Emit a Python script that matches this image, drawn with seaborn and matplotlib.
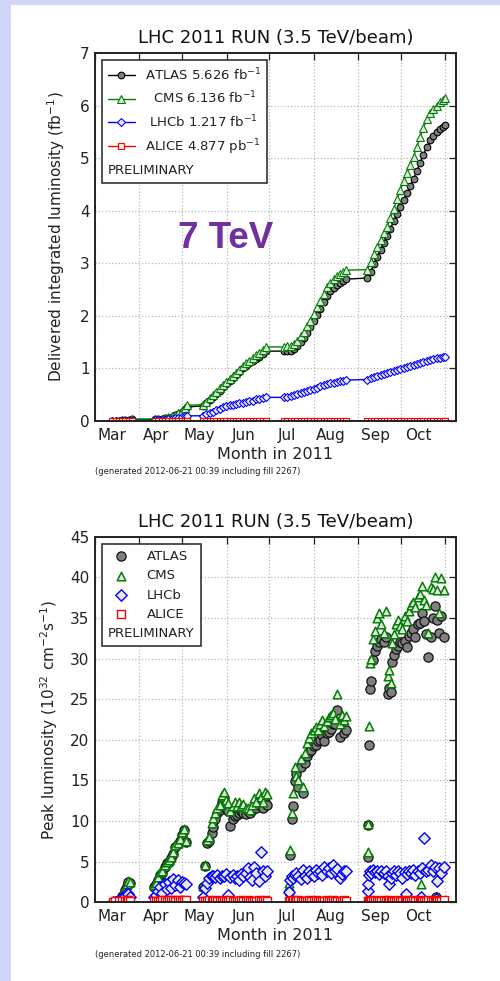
import numpy as np
import pandas as pd
import matplotlib
matplotlib.use("Agg")
import matplotlib.pyplot as plt
from matplotlib.patches import Rectangle
from matplotlib.offsetbox import TextArea
from matplotlib.ticker import NullFormatter
import seaborn as sns

# ---------------------------------------------------------------- data
START = "2011-03-01"          # day 0 of the day counters below

month_starts = ["2011-03-01", "2011-04-01", "2011-05-01", "2011-06-01", "2011-07-01",
                "2011-08-01", "2011-09-01", "2011-10-01", "2011-11-01"]
month_label_dates = ["2011-03-13", "2011-04-13", "2011-05-13", "2011-06-13",
                     "2011-07-13", "2011-08-13", "2011-09-13", "2011-10-13"]
month_labels = ["Mar", "Apr", "May", "Jun", "Jul", "Aug", "Sep", "Oct"]

# ---- top panel: delivered integrated luminosity (fb^-1), days since 1 March
int_days = [12.1, 14.4, 16.7, 19.0, 21.3, 23.6, 25.9,
            42.1, 44.4, 46.7, 49.0, 51.3, 53.6, 56.0, 58.3, 60.6, 62.9, 64.0,
            75.6, 77.9, 80.2, 82.5, 84.8, 87.2, 89.5, 91.8, 94.1, 96.4, 98.7, 101.0,
            103.3, 105.6, 108.0, 110.3, 112.6, 114.9, 117.2, 119.5,
            132.2, 134.5, 136.8, 139.2, 141.5, 143.8, 146.1, 148.4, 150.7, 153.0,
            155.3, 157.6, 160.0, 162.3, 164.6, 166.9, 169.2, 171.5, 173.8, 175.7,
            190.5, 192.8, 195.1, 197.4, 199.7, 202.0, 204.3, 206.6, 209.0, 211.3,
            213.6, 215.9, 218.2, 220.5, 222.8, 225.1, 227.4, 229.7, 232.1, 234.4,
            236.7, 239.0, 241.3, 243.1, 244.5]

atlas_int = [0.002, 0.005, 0.009, 0.014, 0.020, 0.026, 0.031,
             0.034, 0.038, 0.044, 0.053, 0.066, 0.083, 0.106, 0.136, 0.175, 0.225, 0.265,
             0.29, 0.34, 0.40, 0.46, 0.52, 0.58, 0.64, 0.70, 0.76, 0.82, 0.88, 0.94,
             1.00, 1.05, 1.10, 1.14, 1.18, 1.22, 1.28, 1.33,
             1.33, 1.33, 1.34, 1.37, 1.43, 1.50, 1.58, 1.68, 1.78, 1.90,
             2.02, 2.14, 2.26, 2.38, 2.47, 2.54, 2.59, 2.63, 2.67, 2.70,
             2.72, 2.84, 2.98, 3.12, 3.26, 3.39, 3.52, 3.66, 3.80, 3.94,
             4.07, 4.20, 4.34, 4.47, 4.61, 4.76, 4.91, 5.07, 5.22, 5.34,
             5.42, 5.49, 5.55, 5.59, 5.626]

cms_int = [0.002, 0.005, 0.010, 0.015, 0.022, 0.028, 0.033,
           0.036, 0.041, 0.048, 0.058, 0.073, 0.093, 0.118, 0.152, 0.197, 0.255, 0.300,
           0.31, 0.37, 0.43, 0.49, 0.56, 0.62, 0.68, 0.74, 0.80, 0.86, 0.92, 0.98,
           1.05, 1.10, 1.15, 1.20, 1.25, 1.30, 1.36, 1.41,
           1.41, 1.42, 1.43, 1.47, 1.53, 1.61, 1.70, 1.80, 1.91, 2.03,
           2.16, 2.29, 2.42, 2.55, 2.63, 2.70, 2.75, 2.79, 2.83, 2.87,
           2.88, 3.02, 3.18, 3.32, 3.45, 3.57, 3.70, 3.86, 4.04, 4.22,
           4.40, 4.56, 4.72, 4.87, 5.03, 5.22, 5.40, 5.58, 5.74, 5.86,
           5.94, 6.00, 6.06, 6.10, 6.136]

lhcb_int = [0.000, 0.001, 0.002, 0.004, 0.006, 0.008, 0.010,
            0.012, 0.015, 0.020, 0.026, 0.033, 0.042, 0.052, 0.065, 0.078, 0.092, 0.100,
            0.10, 0.13, 0.16, 0.18, 0.21, 0.23, 0.26, 0.28, 0.30, 0.31, 0.33, 0.34,
            0.35, 0.37, 0.38, 0.39, 0.41, 0.42, 0.43, 0.45,
            0.45, 0.46, 0.47, 0.49, 0.51, 0.53, 0.55, 0.57, 0.59, 0.61,
            0.63, 0.66, 0.68, 0.71, 0.72, 0.73, 0.74, 0.76, 0.77, 0.78,
            0.79, 0.81, 0.83, 0.85, 0.87, 0.89, 0.91, 0.93, 0.95, 0.97,
            0.99, 1.01, 1.03, 1.05, 1.07, 1.09, 1.11, 1.13, 1.15, 1.17,
            1.18, 1.19, 1.20, 1.21, 1.217]

alice_int = [0.00001, 0.00002, 0.00003, 0.00004, 0.00005, 0.00006, 0.00007,
             0.00009, 0.00010, 0.00012, 0.00014, 0.00016, 0.00018, 0.00020, 0.00022,
             0.00024, 0.00026, 0.00028,
             0.00030, 0.00037, 0.00044, 0.00050, 0.00058, 0.00065, 0.00071, 0.00079,
             0.00086, 0.00093, 0.00100, 0.00106, 0.00114, 0.00121, 0.00128, 0.00135,
             0.00142, 0.00149, 0.00156, 0.00163,
             0.00170, 0.00177, 0.00184, 0.00191, 0.00198, 0.00205, 0.00212, 0.00219,
             0.00226, 0.00233, 0.00240, 0.00247, 0.00254, 0.00261, 0.00268, 0.00275,
             0.00282, 0.00289, 0.00296, 0.00303,
             0.00310, 0.00317, 0.00324, 0.00331, 0.00338, 0.00345, 0.00352, 0.00359,
             0.00366, 0.00373, 0.00380, 0.00387, 0.00394, 0.00401, 0.00408, 0.00415,
             0.00422, 0.00429, 0.00436, 0.00443, 0.00450, 0.00457, 0.00464, 0.00471,
             0.004877]

# ---- bottom panel: peak luminosity (1e32 cm^-2 s^-1), days since 1 March
peak_days = [12.3, 14.3, 16.9, 18.9, 20.9, 22.4, 23.4, 24.4,
             41.1, 42.6, 44.1, 45.6, 47.2, 48.7, 50.2, 51.7, 53.2, 54.8, 56.3, 57.8,
             59.3, 60.8, 62.3, 63.4,
             75.5, 77.0, 78.5, 80.0, 81.5, 82.6, 84.1, 85.6, 87.1, 88.6, 90.2, 91.7,
             93.2, 94.7, 96.2, 97.7, 99.2, 100.8, 102.3, 103.8, 105.3, 106.8, 108.4,
             109.9, 111.4, 112.9, 114.4, 115.9, 117.5, 119.0, 120.5,
             135.6, 136.6, 137.7, 138.7, 139.7, 140.7, 142.2, 143.8, 145.3, 146.8,
             148.3, 149.8, 151.3, 152.9, 154.4, 155.9, 157.4, 158.9, 160.5, 162.0,
             163.5, 165.0, 166.5, 168.1, 169.6, 171.1, 172.6, 174.1, 175.6,
             190.7, 191.2, 191.7, 192.2, 193.2, 194.2, 195.7, 197.2, 198.8, 200.3,
             201.8, 203.3, 204.8, 205.8, 206.8, 207.9, 208.9, 210.4, 211.9, 213.4,
             214.9, 216.5, 217.5, 218.0, 219.5, 221.0, 222.5, 224.1, 225.6, 227.1,
             228.1, 228.6, 230.1, 231.6, 233.2, 234.7, 236.2, 237.7, 238.7, 239.2,
             240.7, 242.3, 243.8]

atlas_peak = [0.05, 0.1, 0.3, 0.8, 1.5, 2.0, 2.5, 2.4,
              1.9, 2.2, 2.8, 3.4, 3.6, 4.4, 4.8, 5.0, 5.4, 6.0, 6.8, 7.2, 7.6, 8.3, 8.9, 7.4,
              1.9, 4.5, 7.3, 7.6, 8.5, 9.3, 10.2, 11.0, 11.4, 12.4, 12.8, 11.6,
              11.2, 9.4, 10.2, 10.6, 10.8, 11.0, 11.2, 11.0, 10.9, 11.2, 11.0,
              11.4, 11.8, 11.6, 12.0, 12.6, 11.6, 12.4, 12.0,
              1.3, 5.8, 10.3, 11.8, 14.9, 15.8, 14.2, 16.6, 13.4, 17.2,
              18.0, 18.5, 18.8, 19.2, 19.4, 19.8, 20.0, 20.6, 19.8, 20.8,
              21.0, 21.3, 21.9, 22.0, 23.7, 20.4, 22.5, 20.8, 21.2,
              5.6, 9.5, 19.4, 26.2, 27.2, 29.8, 30.9, 31.5, 32.1, 32.4,
              32.0, 32.6, 25.6, 26.4, 25.9, 29.6, 30.4, 31.2, 31.6, 32.0,
              31.9, 32.2, 0.5, 31.4, 32.8, 33.2, 33.6, 32.6, 34.2, 34.4,
              0.4, 35.6, 34.6, 33.0, 30.2, 32.6, 35.0, 36.5, 0.6, 34.8,
              33.1, 35.2, 32.7]

cms_peak = [0.05, 0.1, 0.3, 0.9, 1.7, 2.2, 2.6, 2.5,
            2.1, 2.4, 3.1, 3.7, 3.8, 4.6, 5.0, 5.2, 5.6, 6.2, 7.0, 7.3, 7.8, 8.6, 9.0, 7.6,
            2.0, 4.6, 7.7, 8.1, 9.8, 10.4, 11.0, 11.6, 12.0, 13.2, 13.6, 12.6,
            12.2, 11.3, 11.8, 12.3, 11.9, 12.3, 11.8, 12.1, 11.6, 11.6, 11.4,
            12.0, 12.8, 12.4, 13.4, 13.0, 12.4, 13.6, 13.3,
            2.4, 6.5, 11.0, 13.5, 16.7, 15.5, 15.0, 17.6, 14.2, 18.4,
            19.6, 20.2, 20.8, 21.2, 21.6, 21.2, 22.0, 22.4, 21.7, 22.3,
            22.8, 23.0, 23.3, 22.6, 25.6, 22.0, 23.0, 22.5, 22.9,
            6.2, 9.7, 21.7, 29.4, 29.9, 32.4, 33.4, 35.0, 35.6, 34.2,
            33.2, 35.8, 27.8, 28.6, 27.0, 31.9, 33.0, 34.2, 34.8, 34.0,
            33.6, 35.2, 0.5, 34.6, 35.8, 36.6, 37.0, 36.4, 37.6, 38.0,
            2.3, 38.9, 37.2, 36.6, 33.2, 38.8, 38.6, 40.1, 0.5, 38.4,
            35.6, 39.9, 38.4]

lhcb_peak = [0.05, 0.1, 0.3, 0.5, 0.8, 1.1, 1.0, 0.6,
             0.7, 0.9, 1.4, 1.9, 1.2, 2.2, 1.6, 2.5, 1.8, 2.9, 2.1, 2.7, 1.9, 2.5, 2.4, 2.2,
             0.6, 1.8, 2.4, 3.0, 3.2, 3.3, 3.1, 3.4, 3.0, 3.3, 3.2, 3.5,
             0.9, 3.1, 3.4, 3.0, 3.3, 2.7, 3.5, 3.2, 3.6, 4.2, 3.1,
             2.8, 4.4, 3.6, 2.6, 6.2, 3.9, 3.2, 3.8,
             1.3, 2.8, 3.2, 3.0, 3.4, 3.6, 3.2, 2.9, 4.0, 3.3,
             3.0, 3.8, 3.5, 3.2, 4.0, 3.6, 3.9, 3.4, 4.4, 3.8,
             4.2, 3.6, 4.6, 3.8, 4.1, 3.0, 3.5, 3.9, 3.8,
             1.4, 2.2, 3.4, 3.8, 3.6, 4.0, 3.7, 3.9, 3.5, 3.8,
             3.6, 3.9, 3.2, 2.3, 3.0, 3.6, 3.8, 3.4, 3.8, 3.6,
             3.0, 3.7, 1.0, 3.5, 3.9, 3.6, 4.0, 3.4, 3.8, 3.6,
             0.6, 4.2, 7.9, 3.8, 4.0, 4.6, 3.9, 4.3, 0.4, 2.6,
             4.2, 3.6, 4.3]

alice_peak = [0.10, 0.15, 0.20, 0.20, 0.20, 0.25, 0.25, 0.20,
              0.20, 0.20, 0.15, 0.20, 0.25, 0.25, 0.20, 0.25, 0.30, 0.25, 0.20, 0.25,
              0.25, 0.20, 0.25, 0.25,
              0.15, 0.20, 0.20, 0.25, 0.20, 0.20, 0.25, 0.20, 0.15, 0.20, 0.25, 0.20,
              0.20, 0.25, 0.20, 0.20, 0.15, 0.20, 0.25, 0.20, 0.20, 0.25, 0.20,
              0.20, 0.15, 0.20, 0.25, 0.20, 0.20, 0.25, 0.20,
              0.15, 0.20, 0.20, 0.25, 0.20, 0.20, 0.25, 0.20, 0.20, 0.15,
              0.20, 0.25, 0.20, 0.20, 0.25, 0.20, 0.15, 0.20, 0.20, 0.25,
              0.20, 0.20, 0.25, 0.20, 0.20, 0.15, 0.20, 0.25, 0.20,
              0.15, 0.20, 0.20, 0.25, 0.20, 0.20, 0.25, 0.20, 0.15, 0.20,
              0.25, 0.20, 0.20, 0.25, 0.20, 0.20, 0.15, 0.20, 0.25, 0.20,
              0.20, 0.25, 0.20, 0.20, 0.15, 0.20, 0.25, 0.20, 0.20, 0.25,
              0.20, 0.20, 0.15, 0.20, 0.25, 0.20, 0.20, 0.25, 0.20, 0.20,
              0.15, 0.20, 0.25]

int_labels = ["ATLAS 5.626 fb$^{-1}$", "  CMS 6.136 fb$^{-1}$",
              " LHCb 1.217 fb$^{-1}$", "ALICE 4.877 pb$^{-1}$"]
peak_labels = ["ATLAS", "CMS", "LHCb", "ALICE"]

for arr in (atlas_int, cms_int, lhcb_int, alice_int):
    assert len(arr) == len(int_days)
for arr in (atlas_peak, cms_peak, lhcb_peak, alice_peak):
    assert len(arr) == len(peak_days), (len(arr), len(peak_days))

# ---------------------------------------------------------------- style
sns.set_style("white")
plt.rcParams["font.family"] = ["DejaVu Sans"]
plt.rcParams["mathtext.fontset"] = "dejavusans"

t0 = pd.Timestamp(START)
d_int = t0 + pd.to_timedelta(int_days, unit="D")
d_peak = t0 + pd.to_timedelta(peak_days, unit="D")

df_int = pd.DataFrame({"date": d_int, "ATLAS": atlas_int, "CMS": cms_int,
                       "LHCb": lhcb_int, "ALICE": alice_int})
df_peak = pd.DataFrame({"date": d_peak, "ATLAS": atlas_peak, "CMS": cms_peak,
                        "LHCb": lhcb_peak, "ALICE": alice_peak})

fig = plt.figure(figsize=(5.0, 9.81), dpi=100)
fig.patch.set_facecolor("#d3d6fb")
fig.patches.append(Rectangle((11 / 500, 0), 1.0, (981 - 5) / 981, transform=fig.transFigure,
                             facecolor="white", edgecolor="none", zorder=-5))

ax1 = fig.add_axes([0.19, 0.5708, 0.722, 0.3751])
ax2 = fig.add_axes([0.19, 0.0802, 0.722, 0.3727])

SPINE = "#222222"

series_style = {
    "ATLAS": dict(color="black", marker="o", mfc="#808080", mec="black", ms=4.8),
    "CMS": dict(color="#008000", marker="^", mfc="#e4e4e4", mec="#008000", ms=5.3),
    "LHCb": dict(color="#0000ff", marker="D", mfc="#f0f0f0", mec="#0000ff", ms=3.9),
    "ALICE": dict(color="#ff0000", marker="s", mfc="#f4f4f4", mec="#ff0000", ms=4.0),
}

for name, lab in zip(["ATLAS", "CMS", "LHCb", "ALICE"], int_labels):
    st = series_style[name]
    sns.lineplot(data=df_int, x="date", y=name, ax=ax1, color=st["color"],
                 marker=st["marker"], markersize=st["ms"], markerfacecolor=st["mfc"],
                 markeredgecolor=st["mec"], markeredgewidth=0.8, linewidth=1.0,
                 label=lab)

scatter_style = {
    "ATLAS": dict(marker="o", s=44, fc="#7f7f7f", ec="#111111", lw=0.9),
    "CMS": dict(marker="^", s=38, fc="#e4e4e4", ec="#008000", lw=1.1),
    "LHCb": dict(marker="D", s=34, fc="#e8e8e8", ec="#0000ff", lw=1.0),
    "ALICE": dict(marker="s", s=26, fc="white", ec="#ff0000", lw=1.0),
}
for name, lab in zip(["ATLAS", "CMS", "LHCb", "ALICE"], peak_labels):
    st = scatter_style[name]
    sns.scatterplot(data=df_peak, x="date", y=name, ax=ax2, marker=st["marker"],
                    s=st["s"], facecolor=st["fc"], edgecolor=st["ec"],
                    linewidth=st["lw"], label=lab)


def style_axes(ax, ymax, ystep):
    ax.set_xlim(t0 + pd.Timedelta(days=2.8), t0 + pd.Timedelta(days=252.5))
    ax.set_ylim(0, ymax)
    ax.set_yticks(np.arange(0, ymax + 0.1, ystep))
    ax.set_xticks(pd.to_datetime(month_starts))
    ax.xaxis.set_major_formatter(NullFormatter())
    ax.set_xticks(pd.to_datetime(month_label_dates), labels=month_labels, minor=True)
    ax.tick_params(which="major", direction="in", length=5, width=0.9, color=SPINE,
                   top=True, right=True, labelsize=11, pad=4, labelcolor="#222222")
    ax.tick_params(axis="x", which="minor", length=0, labelsize=11, pad=5,
                   labelcolor="#222222")
    ax.grid(True, which="major", linestyle=":", color="#b8b8b8", linewidth=0.9)
    ax.set_axisbelow(True)
    for s in ax.spines.values():
        s.set_visible(True)
        s.set_color(SPINE)
        s.set_linewidth(1.4)
    ax.set_title("LHC 2011 RUN (3.5 TeV/beam)", fontsize=13, pad=7, color="#111111")
    ax.set_xlabel("Month in 2011", fontsize=11.5, labelpad=3, color="#222222")


style_axes(ax1, 7, 1)
style_axes(ax2, 45, 5)
ax1.set_ylabel("Delivered integrated luminosity (fb$^{-1}$)", fontsize=11, color="#222222")
ax2.set_ylabel("Peak luminosity (10$^{32}$ cm$^{-2}$s$^{-1}$)", fontsize=11, color="#222222")
ax1.yaxis.set_label_coords(-0.078, 0.5)
ax2.yaxis.set_label_coords(-0.097, 0.5)


def make_legend(ax, spacing, pad, textpad, fs=9.5):
    h, l = ax.get_legend_handles_labels()
    leg = ax.legend(h, l, loc="upper left", fontsize=fs, frameon=True, fancybox=False,
                    edgecolor="#333333", framealpha=1.0, borderpad=pad,
                    labelspacing=spacing, handlelength=2.0, handletextpad=textpad,
                    borderaxespad=0.55, scatterpoints=1, numpoints=1, alignment="left")
    leg.get_frame().set_linewidth(1.2)
    for t in leg.get_texts():
        t.set_color("#222222")
    try:
        ta = TextArea("PRELIMINARY", textprops=dict(fontsize=fs, color="#222222"))
        ta.set_figure(ax.figure)
        leg._legend_box._children.append(ta)
    except Exception:
        pass
    return leg


make_legend(ax1, 0.53, 0.45, 0.8)
make_legend(ax2, 0.48, 0.45, 0.9)

ax1.text(0.23, 0.497, "7 TeV", transform=ax1.transAxes, fontsize=26.5, fontweight="bold",
         color="#7030a0", family=["Liberation Sans", "DejaVu Sans"], va="center", ha="left")

note = "(generated 2012-06-21 00:39 including fill 2267)"
fig.text(95 / 500, 1 - 471.7 / 981, note, fontsize=6, va="center", ha="left", color="#222222")
fig.text(95 / 500, 1 - 954.3 / 981, note, fontsize=6, va="center", ha="left", color="#222222")

fig.savefig("out.png", dpi=100, facecolor=fig.get_facecolor())
